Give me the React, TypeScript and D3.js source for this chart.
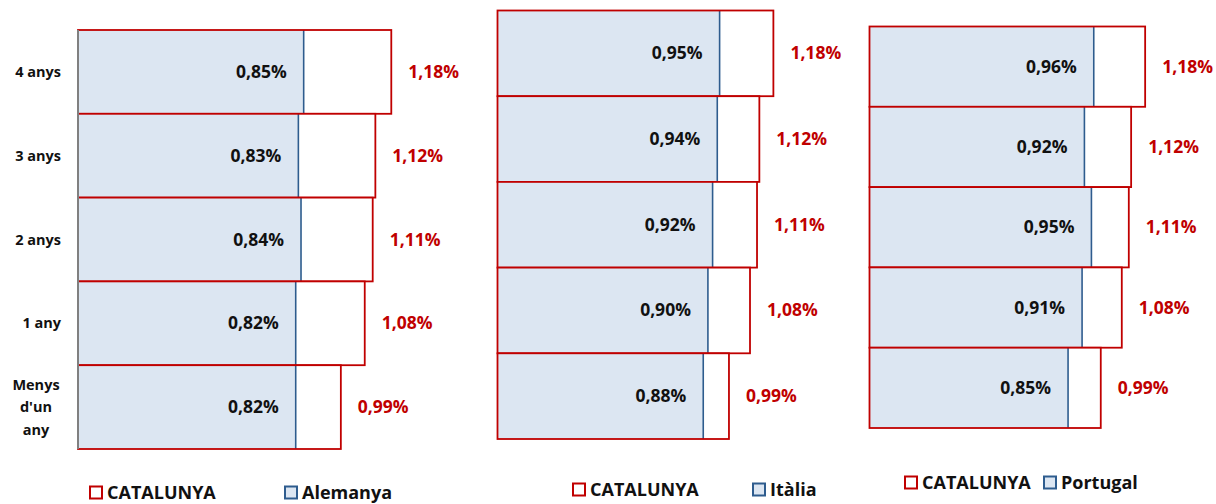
import { scaleBand, scaleLinear } from 'd3';

const categories = ['4 anys', '3 anys', '2 anys', '1 any', "Menys d'un any"];
const catalunya = [1.18, 1.12, 1.11, 1.08, 0.99];
const alemanya = [0.85, 0.83, 0.84, 0.82, 0.82];
const italia = [0.95, 0.94, 0.92, 0.9, 0.88];
const portugal = [0.96, 0.92, 0.95, 0.91, 0.85];

const RED = '#c00000';
const BLUE = '#2e5c8e';
const FILL = '#dce6f2';
const INK = '#111';
const FONT = "'Open Sans', sans-serif";

const fmt = (v: number) => v.toFixed(2).replace('.', ',') + '%';

const panels = [
  { name: 'Alemanya', values: alemanya, x0: 78, top: 30, bottom: 449, k: 265.5, axis: true, ly: 499, lx1: 90, lx2: 285 },
  { name: 'Itàlia', values: italia, x0: 497.5, top: 10.5, bottom: 439, k: 233.8, axis: false, ly: 496, lx1: 573, lx2: 753 },
  { name: 'Portugal', values: portugal, x0: 869.5, top: 26.5, bottom: 428, k: 233.6, axis: false, ly: 489, lx1: 905, lx2: 1044 },
];

function Panel({ p }: { p: (typeof panels)[number] }) {
  const x = scaleLinear().domain([0, 1]).range([p.x0, p.x0 + p.k]);
  const y = scaleBand<string>().domain(categories).range([p.top, p.bottom]).padding(0);
  const bh = y.bandwidth();
  return (
    <g>
      {categories.map((c, i) => (
        <g key={c}>
          <rect x={x(0)} y={y(c)} width={x(catalunya[i]) - x(0)} height={bh} fill="#fff" />
          <rect x={x(0)} y={y(c)} width={x(p.values[i]) - x(0)} height={bh} fill={FILL} />
          <line x1={x(p.values[i])} x2={x(p.values[i])} y1={y(c)} y2={(y(c) ?? 0) + bh} stroke={BLUE} strokeWidth={1.6} />
          <rect x={x(0)} y={y(c)} width={x(catalunya[i]) - x(0)} height={bh} fill="none" stroke={RED} strokeWidth={1.8} />
          <text x={x(p.values[i]) - 17} y={(y(c) ?? 0) + bh / 2 + 6} textAnchor="end" fontSize={17.5} fontWeight="bold" fill={INK}>
            {fmt(p.values[i])}
          </text>
          <text x={x(catalunya[i]) + 17} y={(y(c) ?? 0) + bh / 2 + 6} textAnchor="start" fontSize={17.5} fontWeight="bold" fill={RED}>
            {fmt(catalunya[i])}
          </text>
        </g>
      ))}
      {p.axis && (
        <>
          <line x1={p.x0} x2={p.x0} y1={p.top} y2={p.bottom} stroke="#808080" strokeWidth={2} />
          {categories.map((c) => {
            const words = c === "Menys d'un any" ? ['Menys', "d'un", 'any'] : [c];
            const cy = (y(c) ?? 0) + bh / 2;
            return (
              <text key={c} textAnchor={words.length > 1 ? 'middle' : 'end'} fontSize={14.5} fontWeight="bold" fill={INK}>
                {words.map((w, j) => (
                  <tspan key={w} x={words.length > 1 ? 36 : 61} y={cy + 5 + (j - (words.length - 1) / 2) * 22.5}>
                    {w}
                  </tspan>
                ))}
              </text>
            );
          })}
        </>
      )}
      <rect x={p.lx1} y={p.ly - 12.5} width={12} height={12} fill="#fff" stroke={RED} strokeWidth={2} />
      <text x={p.lx1 + 17} y={p.ly} fontSize={18} fontWeight="bold" fill={INK}>CATALUNYA</text>
      <rect x={p.lx2} y={p.ly - 12.5} width={12} height={12} fill={FILL} stroke={BLUE} strokeWidth={2} />
      <text x={p.lx2 + 17} y={p.ly} fontSize={18} fontWeight="bold" fill={INK}>{p.name}</text>
    </g>
  );
}

export default function App() {
  return (
    <svg width={1216} height={504} style={{ position: 'absolute', left: 0, top: 0, background: '#fff' }} fontFamily={FONT}>
      {panels.map((p) => (
        <Panel key={p.name} p={p} />
      ))}
    </svg>
  );
}
